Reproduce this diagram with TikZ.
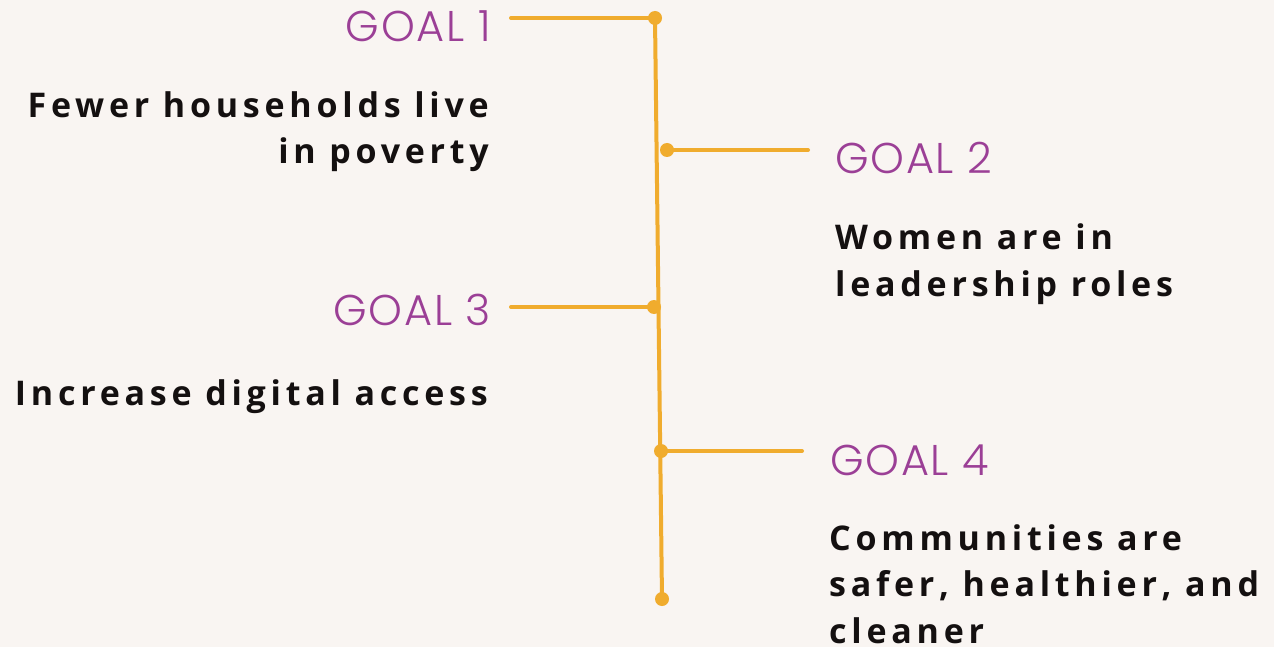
\documentclass[tikz,border=0pt]{standalone}
\usepackage{fontspec}
\setmainfont{Open Sans}
\newfontfamily\goalfont{Poppins}[UprightFont=* Light, LetterSpace=4]
\newfontfamily\bodyfont{Open Sans}[BoldFont=* Bold, LetterSpace=14]
\definecolor{bgc}{HTML}{F9F5F2}
\definecolor{linec}{HTML}{F0AC2E}
\definecolor{goalc}{HTML}{9B3F96}
\definecolor{txtc}{HTML}{141010}
\begin{document}
\begin{tikzpicture}[x=1pt,y=-1pt,
  goal/.style={inner sep=0pt, text=goalc, font=\goalfont\fontsize{43}{50}\selectfont},
  desc/.style={inner sep=0pt, text=txtc, font=\bodyfont\bfseries\fontsize{34}{46.5}\selectfont},
  conn/.style={draw=linec, line width=4pt, line cap=round},
  dot/.style={circle, fill=linec, inner sep=0pt, minimum size=14pt}]
\fill[bgc] (0,0) rectangle (1274,647);
\useasboundingbox (0,0) rectangle (1274,647);
% dots
\node[dot] (d1) at (655,18) {};
\node[dot] (d2) at (667,150) {};
\node[dot] (d3) at (654,307) {};
\node[dot] (d4) at (661,451) {};
\node[dot] (d5) at (662,599) {};
% free ends of the branches
\coordinate (e1) at (511,18);
\coordinate (e2) at (808,150);
\coordinate (e3) at (511,307);
\coordinate (e4) at (802,451);
% connectors
\draw[conn] (d1.center) -- (d5.center);
\draw[conn] (e1) -- (d1.center);
\draw[conn] (d2.center) -- (e2);
\draw[conn] (e3) -- (d3.center);
\draw[conn] (d4.center) -- (e4);
% goal titles
\node[goal, anchor=base east] (g1) at (491,42) {GOAL 1};
\node[goal, anchor=base west] (g2) at (835,174) {GOAL 2};
\node[goal, anchor=base east] (g3) at (491,325) {GOAL 3};
\node[goal, anchor=base west] (g4) at (830,475) {GOAL 4};
% descriptions (base anchor = baseline of the last line)
\node[desc, align=right, anchor=base east] (t1) at (489,164) {Fewer households live\\in poverty};
\node[desc, align=left, anchor=base west] (t2) at (835,296) {Women are in\\leadership roles};
\node[desc, align=right, anchor=base east] (t3) at (488,405) {Increase digital access};
\node[desc, align=left, anchor=base west] (t4) at (829,643) {Communities are\\safer, healthier, and\\cleaner};
\end{tikzpicture}
\end{document}
